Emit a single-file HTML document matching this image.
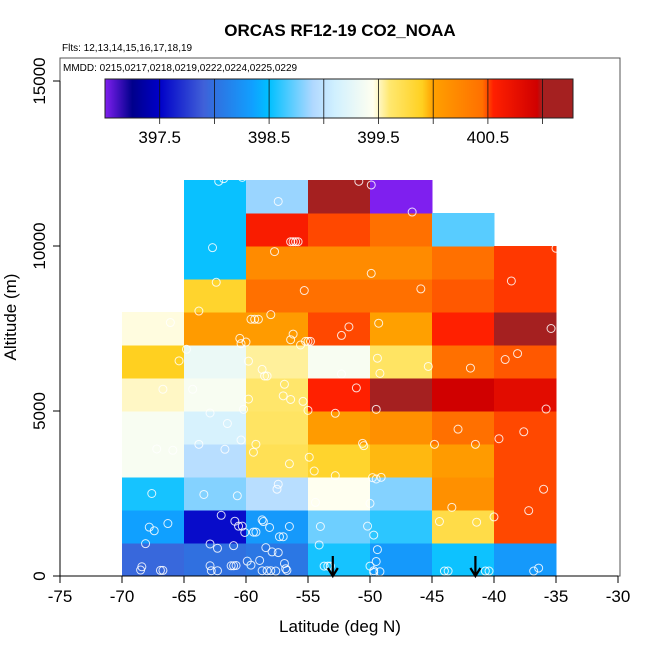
<!DOCTYPE html>
<html><head><meta charset="utf-8"><style>
html,body{margin:0;padding:0;background:#fff;}
svg{display:block;font-family:"Liberation Sans",sans-serif;}
</style></head><body>
<svg id="chart" width="650" height="650" viewBox="0 0 650 650">
<text x="340" y="36" text-anchor="middle" font-size="17" font-weight="bold">ORCAS RF12-19 CO2_NOAA</text>
<text x="62" y="51" font-size="10">Flts: 12,13,14,15,16,17,18,19</text>
<g id="cells"></g>
<g id="pts"></g>
<g id="arrows"></g>
<rect x="60" y="58" width="560" height="518" fill="none" stroke="#555" stroke-width="1"/>
<text x="63" y="71" font-size="10">MMDD: 0215,0217,0218,0219,0222,0224,0225,0229</text>
<g id="cbar"></g>
<g id="axes"></g>
<text x="340" y="632" text-anchor="middle" font-size="17">Latitude (deg N)</text>
<text transform="translate(16,317) rotate(-90)" text-anchor="middle" font-size="17">Altitude (m)</text>
</svg>
<script>
const latBins = [-70,-65,-60,-55,-50,-45,-40];
const colVals0 = [397.95,398.35,398.55,399.4,399.4,399.5,399.9,399.47];
const colVals1 = [398.0,397.55,398.8,398.95,399.15,399.4,399.3,400.05,399.85,398.52,398.52,398.52];
const colVals2 = [398.05,398.3,398.95,399.7,399.65,399.62,399.55,400.05,400.45,400.2,400.6,398.85];
const colVals3 = [398.55,398.75,399.45,399.85,400.05,400.55,399.4,400.5,400.45,400.2,400.5,401.1];
const colVals4 = [398.3,398.6,398.8,399.95,400.15,401.1,399.65,400.0,400.45,400.2,400.45,397.0];
const colVals5 = [398.53,399.75,400.15,400.05,400.45,400.95,400.45,400.55,400.48,400.45,398.7];
const colVals6 = [398.3,400.5,400.5,400.5,400.5,400.8,400.48,401.1,400.52,400.52];
const ptLat = [-66.7,-64.3,-59.8,-56.9,-57.0,-56.4,-55.4,-55.0,-62.9,-61.5,-60.4,-60.2,-59.2,-59.4,-63.8,-61.7,-67.2,-65.9,-56.5,-54.9,-54.5,-52.8,-51.1,-49.5,-50.6,-50.5,-52.8,-49.8,-49.5,-49.1,-44.8,-42.9,-41.5,-39.6,-37.6,-35.8,-36.0,-37.2,-43.4,-44.4,-41.4,-40.0,-67.6,-63.4,-60.7,-57.4,-57.5,-54.4,-50.0,-67.8,-67.4,-66.3,-68.1,-62.0,-60.9,-60.6,-60.3,-60.1,-59.4,-59.2,-58.7,-58.6,-58.1,-57.3,-57.0,-56.5,-54.0,-50.2,-49.7,-62.9,-62.3,-61.0,-58.4,-57.9,-57.4,-54.1,-49.4,-49.5,-68.5,-68.4,-66.9,-66.7,-62.9,-62.8,-62.3,-61.2,-61.0,-60.8,-59.9,-59.6,-58.9,-58.7,-58.3,-58.0,-57.6,-56.9,-56.7,-56.8,-53.7,-53.4,-53.2,-50.0,-49.7,-49.7,-49.2,-44.0,-43.7,-40.7,-40.4,-36.8,-36.4,
-62.2,-61.8,-60.3,-57.4,-50.9,-49.9,-46.6,-62.7,-56.4,-56.2,-56.0,-55.8,-57.7,-49.9,-62.4,-55.3,-45.9,-38.6,-35.0,-63.8,-66.1,-59.6,-59.3,-59.0,-58.0,-56.2,-56.4,-55.2,-55.0,-54.8,-51.7,-52.3,-49.3,-35.4,-60.5,-60.4,-60.0,-64.8,-65.4,-59.8,-58.7,-58.5,-58.3,-55.6,-52.3,-49.4,-49.2,-45.3,-41.9,-39.1,-38.1];
const ptAlt = [5660,5660,5360,5810,5460,5350,5290,5020,4940,4620,4120,5050,3990,3750,3990,3840,3850,3810,3400,3600,3180,4930,5700,5050,4020,3950,3040,2980,2940,2990,3990,4450,3990,4160,4370,5060,2630,1980,2080,1650,1630,1790,2500,2470,2430,2780,2630,2230,2200,1480,1370,1590,980,1840,1660,1510,1510,1320,1330,1330,1700,1650,1470,1190,1190,1500,1500,1510,1240,970,840,920,860,730,710,940,800,440,180,280,170,170,310,160,160,310,310,320,450,330,470,160,160,160,150,380,170,220,300,300,300,300,160,110,130,150,150,150,150,150,240,
11960,12040,12080,11350,11960,11850,11030,9950,10130,10130,10130,10130,9830,9170,8900,8650,8700,8940,9930,8030,7680,7780,7780,7780,7920,7330,7160,7110,7110,7110,7550,7290,7660,7500,7200,7040,7090,6870,6520,6510,6260,6060,6060,7000,6120,6600,6140,6350,6300,6560,6740];
const arrowLat = [-53.0,-41.5];
const cbTicks = [397.5,398.5,399.5,400.5];
const cbBounds = [397.5,398,398.5,399,399.5,400,400.5,401];

const NS='http://www.w3.org/2000/svg';
function X(lat){return 60+(lat+75)*12.4;}
function Y(alt){return 576-alt*0.033;}
function CX(v){return 105+(v-397)*109.4;}
const stops=[[397.0,'#7f1fef'],[397.25,'#00008b'],[397.5,'#0000c8'],[397.9,'#4060d8'],[398.0,'#3070e0'],[398.35,'#10a0ff'],[398.5,'#00c0ff'],[398.9,'#b0d8ff'],[399.1,'#d0f0ff'],[399.45,'#fffff0'],[399.6,'#ffe870'],[399.9,'#ffd020'],[400.0,'#ffa000'],[400.45,'#ff7000'],[400.55,'#ff2000'],[400.95,'#d00000'],[401.0,'#a52020']];
function hex(c){return [1,3,5].map(i=>parseInt(c.substr(i,2),16));}
function cmap(v){
  if(v<=stops[0][0])return stops[0][1];
  for(let i=1;i<stops.length;i++){
    if(v<=stops[i][0]){const a=hex(stops[i-1][1]),b=hex(stops[i][1]);const t=(v-stops[i-1][0])/(stops[i][0]-stops[i-1][0]);
      return 'rgb('+a.map((x,k)=>Math.round(x+(b[k]-x)*t)).join(',')+')';}
  }
  return stops[stops.length-1][1];
}
function mk(tag,attrs,parent){const e=document.createElementNS(NS,tag);for(const k in attrs)e.setAttribute(k,attrs[k]);parent.appendChild(e);return e;}
const cols=[colVals0,colVals1,colVals2,colVals3,colVals4,colVals5,colVals6];
const gc=document.getElementById('cells');
cols.forEach((vals,ci)=>{vals.forEach((v,ri)=>{
  const x0=X(latBins[ci]),x1=X(latBins[ci]+5),y0=Y((ri+1)*1000),y1=Y(ri*1000);
  const r=mk('rect',{x:x0,y:y0,width:x1-x0+0.5,height:y1-y0+0.5,fill:cmap(v)},gc);
  
  
});});
const gp=document.getElementById('pts');
ptLat.forEach((la,i)=>{
  const c=mk('circle',{cx:X(la),cy:Y(ptAlt[i]),r:4,fill:'none',stroke:'#fff','stroke-opacity':0.85,'stroke-width':1},gp);
  
  
});
const ga=document.getElementById('arrows');
arrowLat.forEach(la=>{
  const x=X(la);
  const g=mk('g',{stroke:'#000','stroke-width':2.2,fill:'none'},ga);
  
  
  mk('line',{x1:x,y1:556,x2:x,y2:576},g);
  mk('polyline',{points:(x-5)+',568 '+x+',576 '+(x+5)+',568'},g);
});
const cb=document.getElementById('cbar');
const defs=mk('defs',{},cb);
const lg=mk('linearGradient',{id:'cg',x1:'0',x2:'1',y1:'0',y2:'0'},defs);
stops.forEach(s=>{mk('stop',{offset:((CX(s[0])-105)/468),'stop-color':s[1]},lg);});
mk('stop',{offset:1,'stop-color':'#a52020'},lg);
mk('rect',{x:105,y:79,width:468,height:39,fill:'url(#cg)',stroke:'#222','stroke-width':1},cb);
cbBounds.forEach(b=>{
  const l=mk('line',{x1:CX(b),x2:CX(b),y1:79,y2:124,stroke:'#111','stroke-width':0.8},cb);
  
  
});
cbTicks.forEach(t=>{
  const tx=mk('text',{x:CX(t),y:143,'text-anchor':'middle','font-size':17},cb);
  tx.textContent=t.toFixed(1);
  
  
});
const ax=document.getElementById('axes');
const xt=[-75,-70,-65,-60,-55,-50,-45,-40,-35,-30];
mk('line',{x1:X(-75),x2:X(-30),y1:576,y2:576,stroke:'#000'},ax);
xt.forEach(t=>{
  mk('line',{x1:X(t),x2:X(t),y1:576,y2:583,stroke:'#000'},ax);
  const tx=mk('text',{x:X(t),y:602,'text-anchor':'middle','font-size':17},ax);
  tx.textContent=t;
  
  
});
const yt=[0,5000,10000,15000];
mk('line',{x1:60,x2:60,y1:Y(0),y2:Y(15000),stroke:'#000'},ax);
yt.forEach(t=>{
  mk('line',{x1:53,x2:60,y1:Y(t),y2:Y(t),stroke:'#000'},ax);
  const tx=mk('text',{transform:'translate(45,'+Y(t)+') rotate(-90)','text-anchor':'middle','font-size':17},ax);
  tx.textContent=t;
  
  
});
</script>
</body></html>
